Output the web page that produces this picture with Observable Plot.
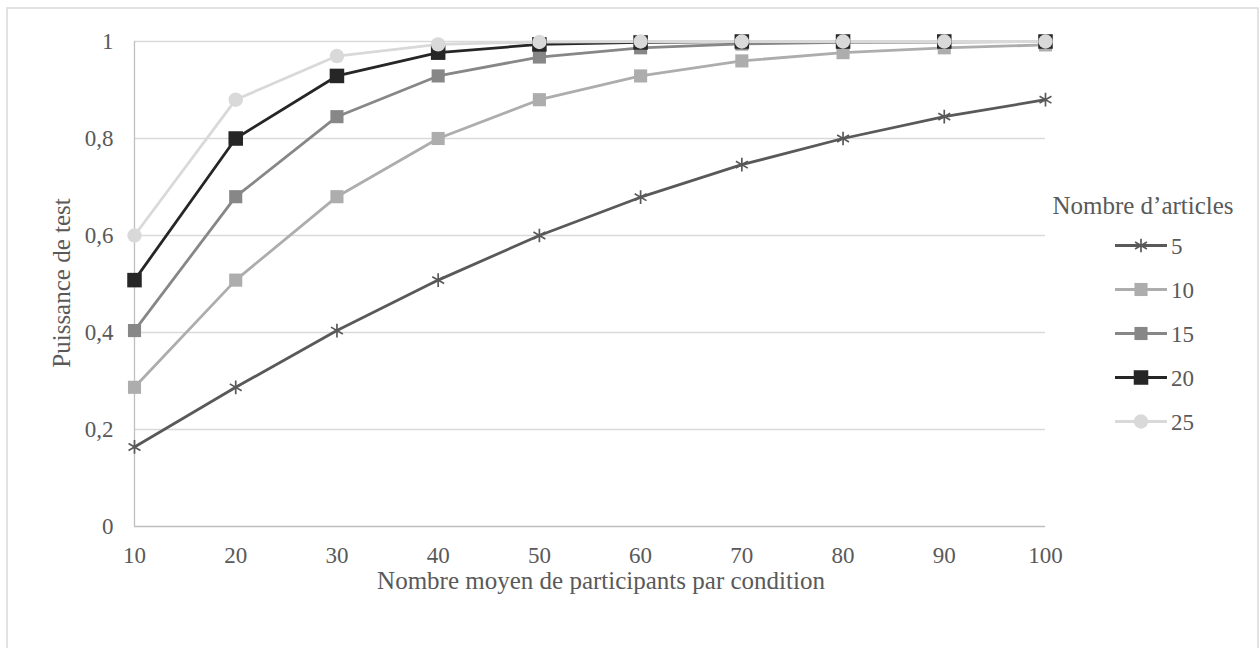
<!DOCTYPE html>
<html>
<head>
<meta charset="utf-8">
<script src="https://cdn.jsdelivr.net/npm/d3@7"></script>
<script src="https://cdn.jsdelivr.net/npm/@observablehq/plot@0.6"></script>
<style>
  html, body { margin: 0; padding: 0; background: #fff; }
  #chart { width: 1260px; height: 648px; overflow: hidden; }
</style>
</head>
<body>
<div id="chart"></div>
<script>
// ---- Data ----
const participants = [10, 20, 30, 40, 50, 60, 70, 80, 90, 100];
const power5  = [0.164, 0.287, 0.404, 0.508, 0.600, 0.679, 0.746, 0.800, 0.845, 0.880];
const power10 = [0.287, 0.508, 0.680, 0.800, 0.880, 0.929, 0.960, 0.977, 0.987, 0.993];
const power15 = [0.404, 0.680, 0.845, 0.929, 0.968, 0.987, 0.995, 0.998, 0.999, 1.000];
const power20 = [0.508, 0.800, 0.929, 0.977, 0.994, 0.998, 1.000, 1.000, 1.000, 1.000];
const power25 = [0.600, 0.880, 0.970, 0.994, 0.999, 1.000, 1.000, 1.000, 1.000, 1.000];
const seriesNames = ["5", "10", "15", "20", "25"];
const seriesValues = [power5, power10, power15, power20, power25];
const yTicks = [0, 0.2, 0.4, 0.6, 0.8, 1];
const xLabel = "Nombre moyen de participants par condition";
const yLabel = "Puissance de test";
const legendTitle = "Nombre d’articles";

// ---- Styles ----
const styles = {
  "5":  {color: "#595959", symbol: "asterisk", r: 6.5},
  "10": {color: "#adadad", symbol: "square", r: 7.4},
  "15": {color: "#878787", symbol: "square", r: 7.4},
  "20": {color: "#262626", symbol: "square", r: 8.2},
  "25": {color: "#d9d9d9", symbol: "circle", r: 7.2}
};
const FONT = "'Liberation Serif', 'Times New Roman', serif";
const TEXT = "#595959";

const series = seriesNames.map((name, i) =>
  participants.map((x, j) => ({x, y: seriesValues[i][j], name}))
);

const marks = [
  Plot.gridY(yTicks.filter(d => d > 0), {stroke: "#d9d9d9", strokeOpacity: 1, strokeWidth: 1.3}),
  Plot.ruleY([0], {stroke: "#bfbfbf", strokeWidth: 1.3}),
  Plot.ruleX([participants[0]], {stroke: "#bfbfbf", strokeWidth: 1.3}),
  Plot.axisY({ticks: yTicks, tickSize: 0, tickPadding: 21, label: null,
    tickFormat: d => String(d).replace(".", ","), fill: TEXT}),
  Plot.axisX({ticks: participants, tickSize: 0, tickPadding: 20, label: null, fill: TEXT})
];
series.forEach(data => {
  const st = styles[data[0].name];
  marks.push(Plot.line(data, {x: "x", y: "y", stroke: st.color, strokeWidth: 2.8}));
});
series.forEach(data => {
  const st = styles[data[0].name];
  if (st.symbol === "asterisk") {
    marks.push(Plot.dot(data, {x: "x", y: "y", symbol: "asterisk", r: st.r, stroke: st.color, strokeWidth: 1.7}));
  } else {
    marks.push(Plot.dot(data, {x: "x", y: "y", symbol: st.symbol, r: st.r, fill: st.color, stroke: "none"}));
  }
});

const W = 1260, H = 648;
const mL = 134, mR = 215, mT = 41, mB = 122;
const chart = Plot.plot({
  width: W, height: H,
  marginLeft: mL, marginRight: mR, marginTop: mT, marginBottom: mB,
  x: {domain: [10, 100]},
  y: {domain: [0, 1]},
  style: {fontFamily: FONT, fontSize: "23px", color: TEXT, background: "#fff"},
  marks
});
document.getElementById("chart").appendChild(chart);

// ---- Titles, legend and frame, added to the same SVG ----
const svg = d3.select(chart);
svg.append("rect").attr("x", 7).attr("y", 8).attr("width", 1251).attr("height", 660)
  .attr("fill", "none").attr("stroke", "#d9d9d9").attr("stroke-width", 1.5);

svg.append("text").text(xLabel)
  .attr("x", 601).attr("y", 589).attr("text-anchor", "middle")
  .attr("font-family", FONT).attr("font-size", 25).attr("fill", TEXT);

svg.append("text").text(yLabel)
  .attr("transform", "translate(70,283) rotate(-90)").attr("text-anchor", "middle")
  .attr("font-family", FONT).attr("font-size", 25).attr("fill", TEXT);

svg.append("text").text(legendTitle)
  .attr("x", 1143).attr("y", 214).attr("text-anchor", "middle")
  .attr("font-family", FONT).attr("font-size", 25).attr("fill", TEXT);

const leg = svg.append("g");
seriesNames.forEach((name, i) => {
  const st = styles[name];
  const cy = 245.5 + i * 44;
  const g = leg.append("g");
  g.append("line").attr("x1", 1115).attr("x2", 1167).attr("y1", cy).attr("y2", cy)
    .attr("stroke", st.color).attr("stroke-width", 2.8);
  const sym = {asterisk: d3.symbolAsterisk, square: d3.symbolSquare, circle: d3.symbolCircle}[st.symbol];
  const path = g.append("path")
    .attr("d", d3.symbol(sym, Math.PI * st.r * st.r)())
    .attr("transform", `translate(1141,${cy})`);
  if (st.symbol === "asterisk") path.attr("fill", "none").attr("stroke", st.color).attr("stroke-width", 1.7);
  else path.attr("fill", st.color);
  g.append("text").text(name).attr("x", 1171).attr("y", cy).attr("dy", "0.35em")
    .attr("text-anchor", "start")
    .attr("font-family", FONT).attr("font-size", 23).attr("fill", TEXT);
});
</script>
</body>
</html>
